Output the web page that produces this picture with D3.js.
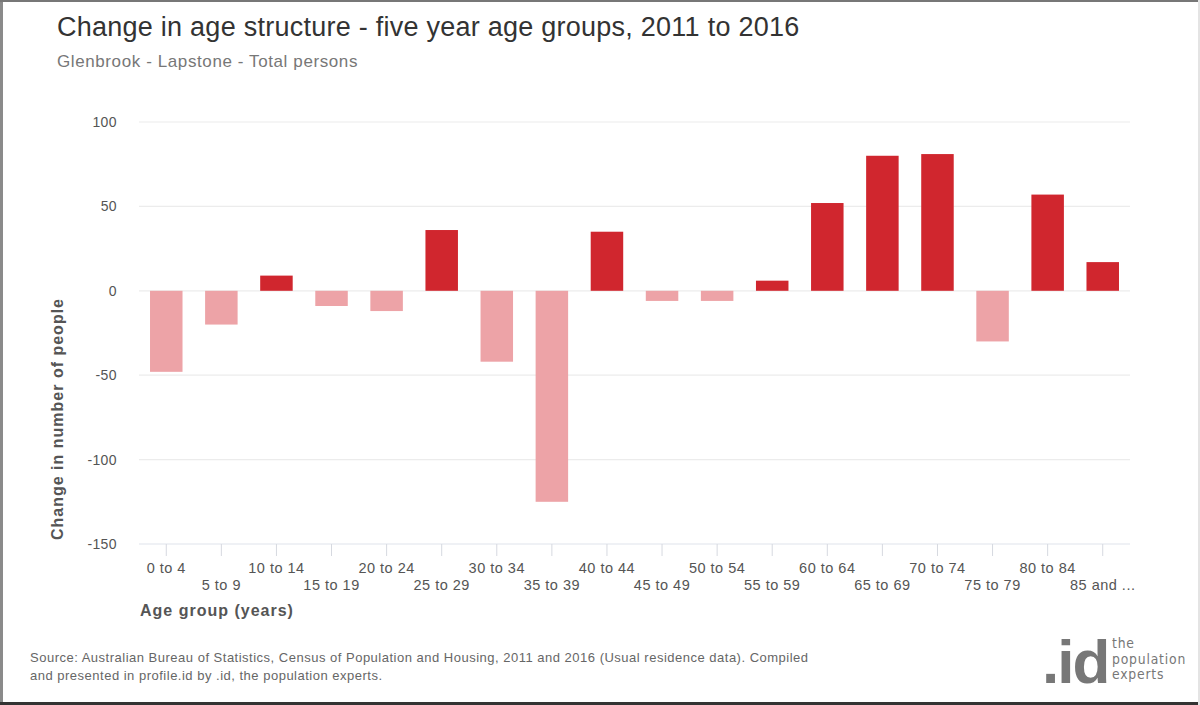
<!DOCTYPE html>
<html lang="en">
<head>
    <meta charset="UTF-8">
    <title>age structure change</title>
    <script src="https://d3js.org/d3.v7.min.js"></script>
    <style>
        html, body { margin: 0; padding: 0; background: #fff; }
        svg { display: block; font-family: "Liberation Sans", Arial, sans-serif; }
    </style>
</head>
<body>
<div id="chart"></div>
<script>
    // age groups and change in persons 2011 -> 2016
    const ageGroups = ['0 to 4', '5 to 9', '10 to 14', '15 to 19', '20 to 24', '25 to 29',
        '30 to 34', '35 to 39', '40 to 44', '45 to 49', '50 to 54', '55 to 59',
        '60 to 64', '65 to 69', '70 to 74', '75 to 79', '80 to 84', '85 and ...'];
    const change = [-48, -20, 9, -9, -12, 36, -42, -125, 35, -6, -6, 6, 52, 80, 81, -30, 57, 17];
    const yTicks = [-150, -100, -50, 0, 50, 100];

    const W = 1200, H = 705;
    const m = {top: 122, right: 70, bottom: 161, left: 139};

    const svg = d3.select('#chart').append('svg')
        .attr('width', W).attr('height', H);

    // frame like the screenshot
    svg.append('rect').attr('x', 0).attr('y', 0).attr('width', W).attr('height', H).attr('fill', '#fff');
    svg.append('rect').attr('x', 0).attr('y', 0).attr('width', 3).attr('height', H).attr('fill', '#8a8a8a');
    svg.append('rect').attr('x', 0).attr('y', 0).attr('width', W).attr('height', 2).attr('fill', '#777');
    svg.append('rect').attr('x', 0).attr('y', H - 3).attr('width', W).attr('height', 3).attr('fill', '#333');
    svg.append('rect').attr('x', W - 2).attr('y', 0).attr('width', 2).attr('height', H).attr('fill', '#e4e4e4');

    const x = d3.scaleBand().domain(ageGroups)
        .range([m.left, W - m.right]).paddingInner(0.41).paddingOuter(0.2);
    const y = d3.scaleLinear().domain([-150, 100]).range([H - m.bottom, m.top]);

    // grid
    svg.append('g').selectAll('line').data(yTicks).join('line')
        .attr('x1', m.left).attr('x2', W - m.right)
        .attr('y1', d => y(d)).attr('y2', d => y(d))
        .attr('stroke', d => d === -150 ? '#dfe3ec' : '#ececec').attr('stroke-width', 1.2);

    svg.append('g').selectAll('text').data(yTicks).join('text')
        .attr('x', 117).attr('y', d => y(d) + 5)
        .attr('text-anchor', 'end').attr('font-size', 14).attr('fill', '#555')
        .attr('letter-spacing', 0.4)
        .text(d => d);

    // bars
    svg.append('g').selectAll('rect').data(change).join('rect')
        .attr('x', (d, i) => x(ageGroups[i]))
        .attr('width', x.bandwidth())
        .attr('y', d => y(Math.max(0, d)))
        .attr('height', d => Math.abs(y(d) - y(0)))
        .attr('fill', d => d >= 0 ? '#d0262e' : '#eda3a7');

    // x axis ticks + staggered labels
    const xg = svg.append('g');
    xg.selectAll('line').data(ageGroups).join('line')
        .attr('x1', d => x(d) + x.bandwidth() / 2).attr('x2', d => x(d) + x.bandwidth() / 2)
        .attr('y1', y(-150)).attr('y2', y(-150) + 12)
        .attr('stroke', '#d6d9e0');
    xg.selectAll('text').data(ageGroups).join('text')
        .attr('x', d => x(d) + x.bandwidth() / 2)
        .attr('y', (d, i) => i % 2 === 0 ? 573 : 590)
        .attr('text-anchor', 'middle').attr('font-size', 14.5).attr('fill', '#555')
        .attr('letter-spacing', 0.5)
        .text(d => d);

    // axis titles
    svg.append('text').attr('x', 140).attr('y', 616)
        .attr('font-size', 16).attr('font-weight', 'bold').attr('fill', '#555')
        .attr('letter-spacing', 1)
        .text('Age group (years)');
    svg.append('text')
        .attr('transform', 'translate(63,' + 419 + ') rotate(-90)')
        .attr('text-anchor', 'middle')
        .attr('font-size', 16).attr('font-weight', 'bold').attr('fill', '#555')
        .attr('letter-spacing', 1)
        .text('Change in number of people');

    // titles
    svg.append('text').attr('x', 57).attr('y', 36)
        .attr('font-size', 27).attr('fill', '#333')
        .attr('letter-spacing', 0.25)
        .text('Change in age structure - five year age groups, 2011 to 2016');
    svg.append('text').attr('x', 57).attr('y', 67)
        .attr('font-size', 17).attr('fill', '#777')
        .attr('letter-spacing', 0.6)
        .text('Glenbrook - Lapstone - Total persons');

    // source
    const src = svg.append('text').attr('font-size', 13).attr('fill', '#666')
        .attr('letter-spacing', 0.5);
    src.append('tspan').attr('x', 30).attr('y', 662)
        .text('Source: Australian Bureau of Statistics, Census of Population and Housing, 2011 and 2016 (Usual residence data). Compiled');
    src.append('tspan').attr('x', 30).attr('y', 680)
        .text('and presented in profile.id by .id, the population experts.');

    // logo
    svg.append('text').attr('x', 1042).attr('y', 683)
        .attr('font-size', 62).attr('font-weight', 'bold').attr('fill', '#777')
        .attr('letter-spacing', -2)
        .text('.id');
    svg.append('g').selectAll('text').data(['the', 'population', 'experts']).join('text')
        .attr('x', 1112).attr('y', (d, i) => 648 + i * 15.5)
        .attr('font-size', 13.8).attr('fill', '#777').attr('letter-spacing', 0.8)
        .attr('font-family', '"Liberation Sans Narrow", "DejaVu Sans Condensed", sans-serif')
        .text(d => d);
</script>
</body>
</html>
